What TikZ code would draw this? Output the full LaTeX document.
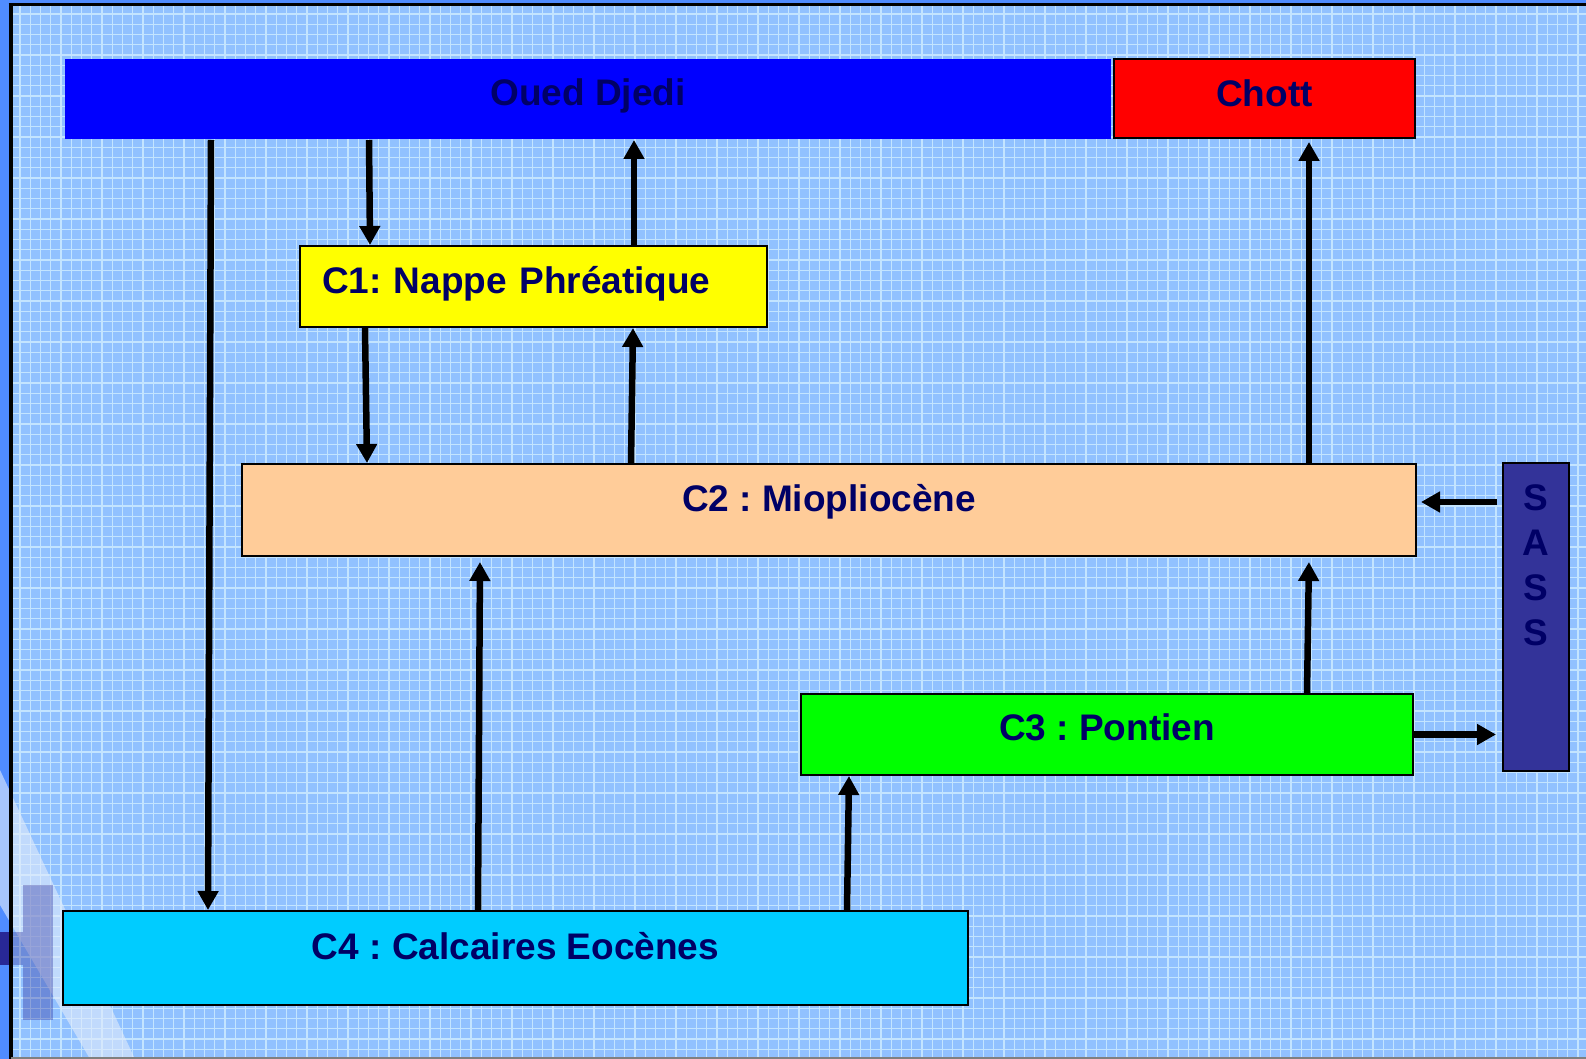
\documentclass[tikz,border=0pt]{standalone}
\usepackage{fontspec}
\setmainfont{Liberation Sans}
\usetikzlibrary{arrows.meta}
\frenchspacing

\definecolor{fond}{RGB}{145,193,255}
\definecolor{grille}{RGB}{195,228,255}
\definecolor{bande}{RGB}{80,140,255}
\definecolor{reflet}{RGB}{225,235,250}
\definecolor{marine}{RGB}{0,0,102}
\definecolor{carre}{RGB}{40,40,150}
\definecolor{colOued}{RGB}{0,0,255}
\definecolor{colChott}{RGB}{255,0,0}
\definecolor{colNappe}{RGB}{255,255,0}
\definecolor{colMio}{RGB}{255,204,153}
\definecolor{colPont}{RGB}{0,255,0}
\definecolor{colEoc}{RGB}{0,204,255}
\definecolor{colSass}{RGB}{51,51,153}

\tikzset{
  bloc/.style={draw=black, line width=2pt, inner sep=0pt, text=marine,
    font=\fontsize{37}{45}\selectfont\bfseries, text height=26.5pt},
  sassl/.style={anchor=north, yshift=-22pt, align=center, inner sep=0pt,
    text=marine, font=\fontsize{37}{45}\selectfont\bfseries},
  flux/.style={line width=6.5pt, -{Triangle[length=19pt,width=20pt]}},
}

\begin{document}
\begin{tikzpicture}[x=1pt,y=-1pt]

    % Background
    % ----------
    \useasboundingbox (0,0) rectangle (1586,1059);
    \fill[bande] (0,0) rectangle (1586,1059);
    \fill[fond] (10.5,4.2) rectangle (1586,1059);
    \foreach \i in {0,...,154}
        \draw[grille, line width=1.2pt] ({9.8+10.25*\i},5.7) -- ++(0,1053.3);
    \foreach \j in {0,...,102}
        \draw[grille, line width=1.2pt] (12.7,{14+10.25*\j}) -- ++(1573.3,0);
    \fill[reflet, opacity=0.6] (0,770) -- (135,1059) -- (90,1059) -- (0,905) -- cycle;
    \fill[carre, opacity=0.35] (23,885) rectangle (53,1020);
    \fill[carre, opacity=0.35] (12,932) rectangle (23,965);
    \fill[carre] (0,932) rectangle (8.5,965);
    \draw[line width=4pt] (10.5,1059) -- (10.5,4.2);
    \draw[line width=3pt] (8.5,4.2) -- (1586,4.2);
    \draw[gray, line width=1.5pt] (10.5,1058.2) -- (1586,1058.2);

    % Boxes
    % -----
    \node[bloc, draw=none, fill=colOued, minimum width=1046pt, minimum height=80pt, text depth=14pt] (oued) at (588,99) {Oued Djedi};
    \node[bloc, fill=colChott, minimum width=301pt, minimum height=79pt, text depth=11pt] (chott) at (1264.5,98.5) {Chott};
    \node[bloc, fill=colNappe, minimum width=467pt, minimum height=81pt, text depth=13pt, text width=423pt, align=left] (c1) at (533.5,286.5) {C1: Nappe Phréatique};
    \node[bloc, fill=colMio, minimum width=1174pt, minimum height=92pt, text depth=24pt] (c2) at (829,510) {C2 : Miopliocène};
    \node[bloc, fill=colPont, minimum width=612pt, minimum height=81pt, text depth=15pt] (c3) at (1107,734.5) {C3 : Pontien};
    \node[bloc, fill=colEoc, minimum width=905pt, minimum height=94pt, text depth=24pt] (c4) at (515.5,958) {C4 : Calcaires Eocènes};
    \node[bloc, fill=colSass, minimum width=66pt, minimum height=308pt, label={[sassl]north:{S\\A\\S\\S}}] (sass) at (1536,617) {};

    % Arrows
    % ------
    \draw[flux] ([xshift=147pt]oued.south west) -- ([xshift=146pt]c4.north west);
    \draw[flux] ([xshift=305pt]oued.south west) -- ([xshift=71pt]c1.north west);
    \draw[flux] ([xshift=335pt]c1.north west) -- ([xshift=570pt]oued.south west);
    \draw[flux] ([xshift=66pt]c1.south west) -- ([xshift=126pt]c2.north west);
    \draw[flux] ([xshift=390pt]c2.north west) -- ([xshift=334pt]c1.south west);
    \draw[flux, shorten >=3pt] ([xshift=1068pt]c2.north west) -- ([xshift=196pt]chott.south west);
    \draw[flux, shorten <=5pt, shorten >=4pt] ([yshift=115pt]sass.west) -- ([yshift=8pt]c2.east);
    \draw[flux, shorten >=6pt] (c3.east) -- (c3.east -| sass.west);
    \draw[flux, shorten >=5pt] ([xshift=416pt]c4.north west) -- ([xshift=239pt]c2.south west);
    \draw[flux, shorten >=5pt] ([xshift=507pt]c3.north west) -- ([xshift=1068pt]c2.south west);
    \draw[flux] ([xshift=785pt]c4.north west) -- ([xshift=49pt]c3.south west);

\end{tikzpicture}
\end{document}
